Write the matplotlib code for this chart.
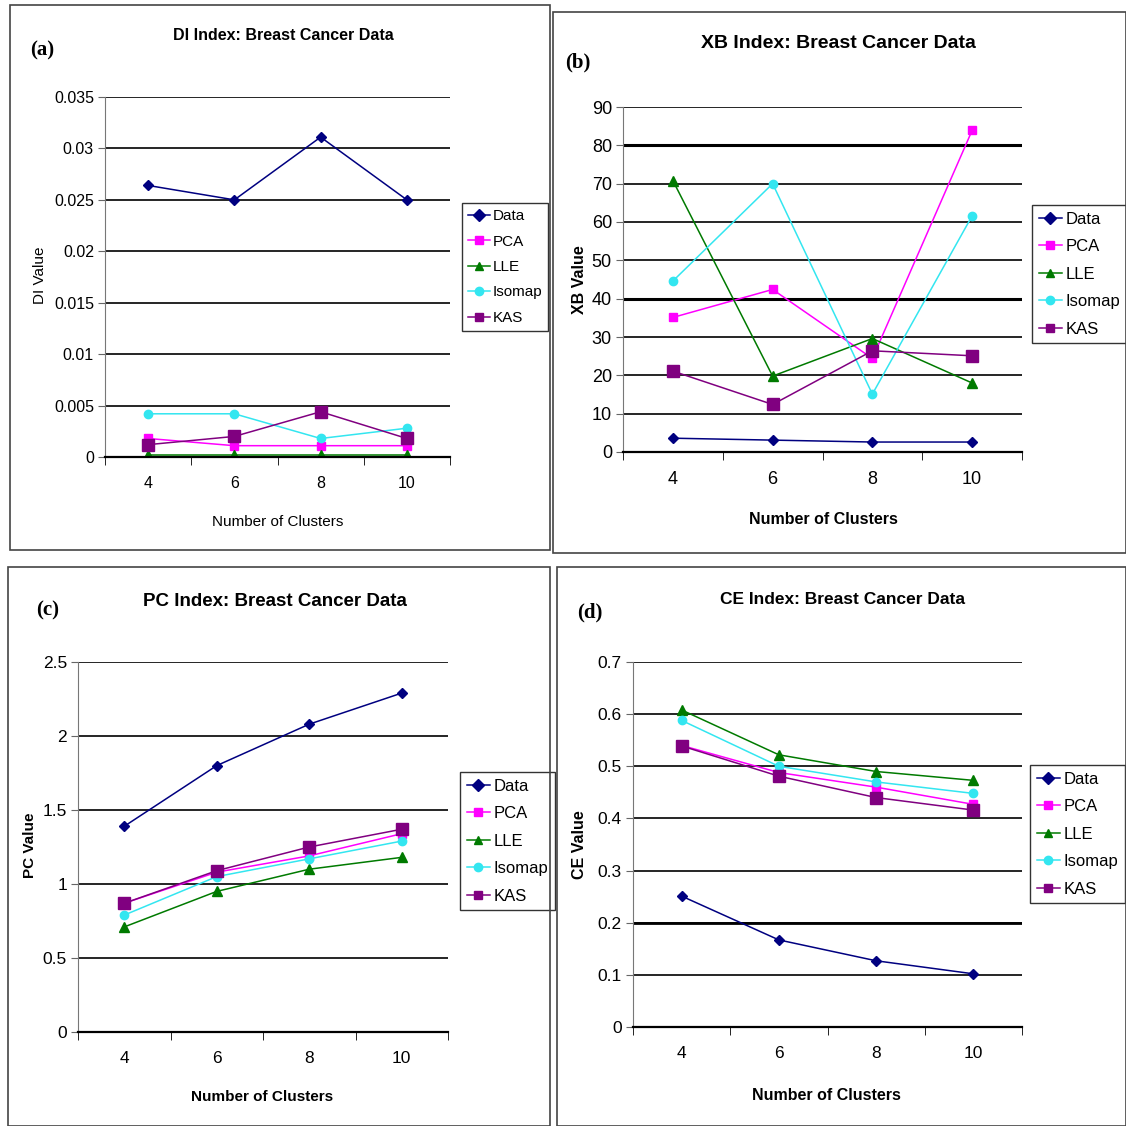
import matplotlib
matplotlib.use("Agg")
import numpy as np
import matplotlib.pyplot as plt
from matplotlib.patches import Rectangle
from matplotlib.ticker import FuncFormatter, FixedLocator

plt.rcParams['font.family'] = ['Liberation Sans', 'DejaVu Sans']

clusters = ['4', '6', '8', '10']
methods = ['Data', 'PCA', 'LLE', 'Isomap', 'KAS']

# DI index
di_data = [0.0264, 0.0250, 0.0311, 0.0250]
di_pca = [0.0018, 0.0011, 0.0011, 0.0011]
di_lle = [0.0002, 0.0002, 0.0002, 0.0002]
di_isomap = [0.0042, 0.0042, 0.0018, 0.0028]
di_kas = [0.0012, 0.0020, 0.0044, 0.0018]

# XB index
xb_data = [3.6, 3.1, 2.6, 2.6]
xb_pca = [35.1, 42.4, 24.4, 83.9]
xb_lle = [70.8, 19.8, 29.6, 18.0]
xb_isomap = [44.6, 70.0, 15.1, 61.6]
xb_kas = [21.1, 12.4, 26.4, 25.1]

# PC index
pc_data = [1.39, 1.80, 2.08, 2.29]
pc_pca = [0.87, 1.08, 1.19, 1.34]
pc_lle = [0.71, 0.95, 1.10, 1.18]
pc_isomap = [0.79, 1.05, 1.17, 1.29]
pc_kas = [0.87, 1.09, 1.25, 1.37]

# CE index
ce_data = [0.251, 0.167, 0.127, 0.102]
ce_pca = [0.540, 0.488, 0.460, 0.427]
ce_lle = [0.608, 0.522, 0.490, 0.473]
ce_isomap = [0.588, 0.500, 0.470, 0.448]
ce_kas = [0.539, 0.481, 0.440, 0.416]

colors = ['#000080', '#FF00FF', '#007A00', '#33E6F0', '#800080']
markers = ['D', 's', '^', 'o', 's']
msizes = [5, 6, 7, 6, 9]

W = H = 1126
fig = plt.figure(figsize=(W / 100, H / 100), dpi=100)


def px_axes(l, t, r, b):
    return fig.add_axes([l / W, 1 - b / H, (r - l) / W, (b - t) / H])


def fx(x):
    return x / W


def fy(y):
    return 1 - y / H


def panel(box, area, series, ylim, ystep, title, tag, ylabel, pos, legend_at,
          bold=True, tick_fs=13, title_fs=14, lab_fs=11.5, leg_fs=12):
    l, t, r, b = box
    fig.patches.append(Rectangle((fx(l), fy(b)), (r - l) / W, (b - t) / H,
                                 transform=fig.transFigure, fill=False,
                                 edgecolor='#444444', linewidth=1.2))
    ax = px_axes(*area)
    x = np.arange(1, 5)
    for vals, c, m, ms, name in zip(series, colors, markers, msizes, methods):
        ax.plot(x, vals, color=c, marker=m, markersize=ms, linewidth=1.1,
                markeredgecolor=c, label=name)
    ax.set_xlim(0.5, 4.5)
    ax.set_ylim(*ylim)
    yt = np.arange(ylim[0], ylim[1] + ystep / 2, ystep)
    ax.yaxis.set_major_locator(FixedLocator(yt))
    ax.yaxis.set_major_formatter(FuncFormatter(lambda v, p: '{:g}'.format(round(v, 4))))
    ax.grid(axis='y', color='black', linewidth=1.2)
    ax.set_axisbelow(True)
    ax.set_xticks(x)
    ax.set_xticklabels(clusters)
    ax.set_xticks(np.arange(0.5, 4.6, 1), minor=True)
    ax.tick_params(axis='x', which='major', length=0, pad=14, labelsize=tick_fs)
    ax.tick_params(axis='x', which='minor', length=6, direction='out', color='black')
    ax.tick_params(axis='y', length=5, direction='out', color='#666666',
                   labelsize=tick_fs, pad=3)
    for s in ['top', 'right']:
        ax.spines[s].set_visible(False)
    ax.spines['left'].set_color('#777777')
    ax.spines['bottom'].set_color('black')
    ax.spines['bottom'].set_linewidth(1.6)
    w = 'bold' if bold else 'normal'
    fig.text(fx(pos['title'][0]), fy(pos['title'][1]), title, ha='center', va='center',
             fontsize=title_fs, fontweight='bold')
    fig.text(fx(pos['tag'][0]), fy(pos['tag'][1]), tag, ha='center', va='center',
             fontsize=15, family='Liberation Serif', fontweight='bold')
    fig.text(fx(pos['ylab'][0]), fy(pos['ylab'][1]), ylabel, ha='center', va='center',
             rotation=90, fontsize=lab_fs, fontweight=w)
    fig.text(fx(pos['xlab'][0]), fy(pos['xlab'][1]), 'Number of Clusters', ha='center',
             va='center', fontsize=lab_fs, fontweight=w)
    leg = ax.legend(loc='upper left', bbox_to_anchor=(fx(legend_at[0]), fy(legend_at[1])),
                    bbox_transform=fig.transFigure, frameon=True, fancybox=False,
                    edgecolor='black', fontsize=leg_fs, handlelength=1.4,
                    handletextpad=0.2, borderpad=0.4, labelspacing=0.75,
                    borderaxespad=0)
    leg.get_frame().set_linewidth(1.0)
    for h in leg.legend_handles:
        h.set_markersize(6)
    return ax


panel((10, 5, 550, 550), (105, 97, 450, 457),
      [di_data, di_pca, di_lle, di_isomap, di_kas], (0, 0.035), 0.005,
      'DI Index: Breast Cancer Data', '(a)', 'DI Value',
      {'title': (283, 36), 'tag': (42, 50), 'ylab': (40, 275), 'xlab': (278, 522)},
      (462, 203), bold=False, tick_fs=11.5, title_fs=11.5, lab_fs=11, leg_fs=11)

axb = panel((553, 12, 1126, 553), (623, 107, 1022, 452),
            [xb_data, xb_pca, xb_lle, xb_isomap, xb_kas], (0, 90), 10,
            'XB Index: Breast Cancer Data', '(b)', 'XB Value',
            {'title': (838, 43), 'tag': (578, 62), 'ylab': (580, 280), 'xlab': (823, 520)},
            (1032, 205), tick_fs=13, title_fs=14, lab_fs=11.5, leg_fs=12)
for yv in (40, 80):
    axb.axhline(yv, color='black', linewidth=2.2, zorder=0.5)

panel((8, 567, 550, 1126), (78, 662, 448, 1032),
      [pc_data, pc_pca, pc_lle, pc_isomap, pc_kas], (0, 2.5), 0.5,
      'PC Index: Breast Cancer Data', '(c)', 'PC Value',
      {'title': (275, 601), 'tag': (48, 610), 'ylab': (30, 845), 'xlab': (262, 1097)},
      (460, 772), tick_fs=12.5, title_fs=13.5, lab_fs=11, leg_fs=12)

axd = panel((557, 567, 1126, 1126), (633, 662, 1022, 1027),
            [ce_data, ce_pca, ce_lle, ce_isomap, ce_kas], (0, 0.7), 0.1,
            'CE Index: Breast Cancer Data', '(d)', 'CE Value',
            {'title': (843, 600), 'tag': (590, 612), 'ylab': (580, 845), 'xlab': (826, 1095)},
            (1030, 765), tick_fs=12.5, title_fs=12.5, lab_fs=11.5, leg_fs=12)
axd.axhline(0.2, color='black', linewidth=2.0, zorder=0.5)

fig.savefig('out.png', dpi=100)
